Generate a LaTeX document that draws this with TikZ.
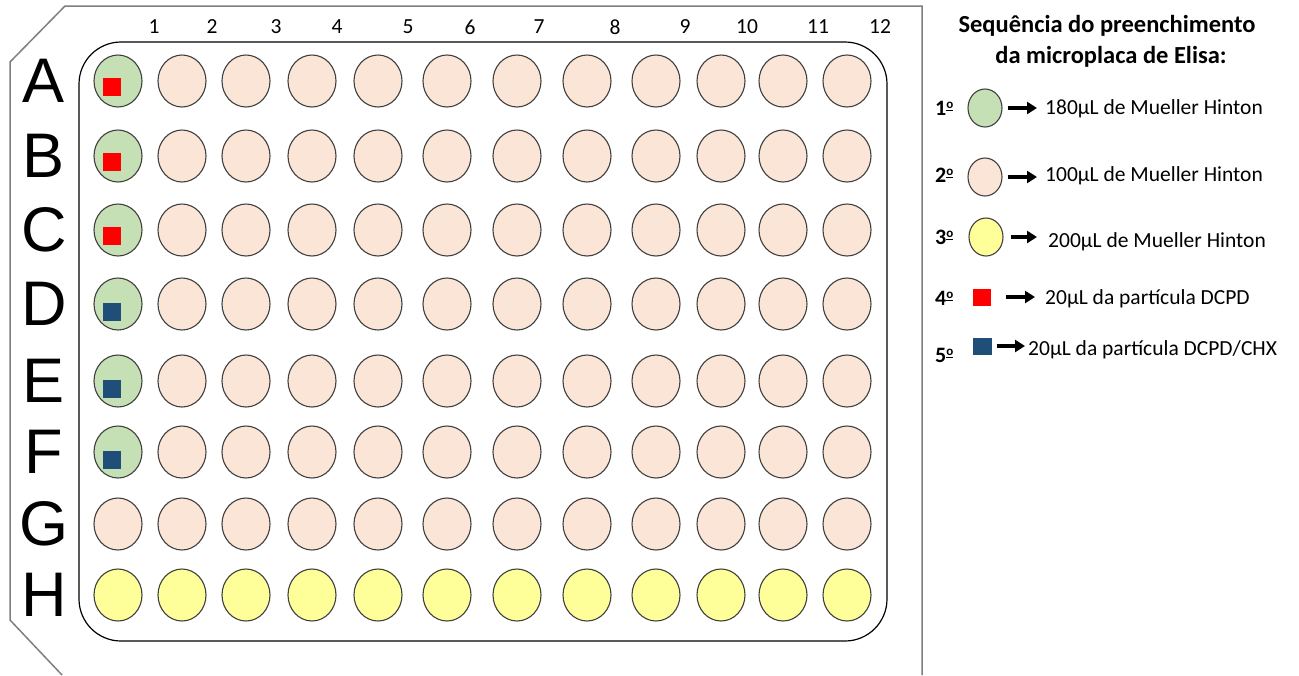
\documentclass[tikz,border=0pt]{standalone}
\usepackage{fontspec}
\setmainfont{Carlito}
\newfontfamily\arialfont{Liberation Sans}
\usepackage{xcolor}
\usetikzlibrary{arrows.meta,positioning,shapes.geometric}
\definecolor{wellgreen}{HTML}{C5E0B4}
\definecolor{wellpeach}{HTML}{FBE5D6}
\definecolor{wellyellow}{HTML}{FFFF99}
\definecolor{dotblue}{HTML}{1F4E79}
\definecolor{rimgray}{HTML}{7F7F7F}
\newcommand\ordmark{\raisebox{6.5pt}{\fontsize{13}{13}\selectfont\underline{o}}}
\tikzset{
  well/.style={ellipse, draw=black!75, line width=1.1pt, inner sep=0pt,
               minimum width=48pt, minimum height=52pt},
  mh180/.style={well, fill=wellgreen},
  mh100/.style={well, fill=wellpeach},
  mh200/.style={well, fill=wellyellow},
  dot/.style={rectangle, inner sep=0pt, minimum size=18pt},
  dcpd/.style={dot, fill=red},
  chx/.style={dot, fill=dotblue},
  keywell/.style={minimum width=34pt, minimum height=38pt},
  rowlbl/.style={font=\arialfont\fontsize{63}{63}\selectfont, inner sep=0pt},
  collbl/.style={font=\fontsize{21.5}{22}\selectfont, inner sep=0pt},
  title/.style={font=\bfseries\fontsize{24.5}{30}\selectfont, anchor=base, inner sep=0pt},
  legnum/.style={font=\bfseries\fontsize{22}{24}\selectfont, anchor=base west, inner sep=0pt},
  legtxt/.style={font=\fontsize{21.5}{24}\selectfont, anchor=base west, inner sep=0pt},
  flow/.style={-{Triangle[length=10pt,width=12pt]}, line width=3.5pt},
}
\begin{document}
\begin{tikzpicture}[x=1pt, y=-1pt]
  \path[fill=white] (0,0) rectangle (1299,675);
  \useasboundingbox (0,0) rectangle (1299,675);
  \draw[rimgray, line width=1.5pt] (62,675) -- (10,620) -- (10,62) -- (65,6) -- (922,6) -- (922,675);
  \draw[line width=1.2pt, rounded corners=42pt] (79,42) rectangle (887,641);
  \foreach \c/\x in {1/154,2/212,3/276,4/337,5/408,6/470,7/539,8/615,9/685,10/747,11/818,12/880}
    \node[collbl] (num\c) at (\x,27) {\c};
  \foreach \r/\y in {A/81,B/156,C/230,D/304,E/381,F/452,G/524,H/595}
    \node[rowlbl] (lbl\r) at (44,\y) {\r};
  \foreach \c/\x in {2/182,3/246,4/312,5/378,6/447,7/517,8/587,9/656,10/721,11/783,12/847} {
    \foreach \r/\y in {A/81,B/156,C/230,D/304,E/381,F/452,G/524}
      \node[mh100] (\r\c) at (\x,\y) {};
    \node[mh200] (H\c) at (\x,595) {};
  }
  \foreach \r/\y in {A/81,B/156,C/230,D/304,E/381,F/452}
    \node[mh180] (\r1) at (118,\y) {};
  \node[mh100] (G1) at (118,524) {};
  \node[mh200] (H1) at (118,595) {};
  \foreach \r in {A,B,C}
    \node[dcpd, xshift=-6pt, yshift=-6pt] (\r1dot) at (\r1) {};
  \foreach \r in {D,E,F}
    \node[chx, xshift=-6pt, yshift=-8pt] (\r1dot) at (\r1) {};

  \node[title] (title1) at (1107,32) {Sequência do preenchimento};
  \node[title] (title2) at (1111,63) {da microplaca de Elisa:};

  \node[legnum] (n1) at (935,115) {1\ordmark};
  \node[mh180, keywell] (k1) at (985,108) {};
  \node[legtxt] (t1) at (1045,114) {180µL de Mueller Hinton};
  \node[legnum] (n2) at (935,182) {2\ordmark};
  \node[mh100, keywell] (k2) at (985,177) {};
  \node[legtxt] (t2) at (1045,181) {100µL de Mueller Hinton};
  \node[legnum] (n3) at (935,244) {3\ordmark};
  \node[mh200, keywell] (k3) at (986,237) {};
  \node[legtxt] (t3) at (1048,247) {200µL de Mueller Hinton};
  \node[legnum] (n4) at (935,305) {4\ordmark};
  \node[dcpd, minimum width=18pt, minimum height=17pt] (k4) at (982,297) {};
  \node[legtxt] (t4) at (1045,304) {20µL da partícula DCPD};
  \node[legnum] (n5) at (935,362) {5\ordmark};
  \node[chx, minimum width=19pt, minimum height=17pt] (k5) at (982,346) {};
  \node[legtxt] (t5) at (1028,355) {20µL da partícula DCPD/CHX};
  \foreach \i/\a/\b in {1/5/8,2/5/8,3/7/11,4/15/10,5/5/3}
    \draw[flow, shorten <=\a pt, shorten >=\b pt] (k\i.east) -- (k\i.east -| t\i.west);
\end{tikzpicture}
\end{document}
